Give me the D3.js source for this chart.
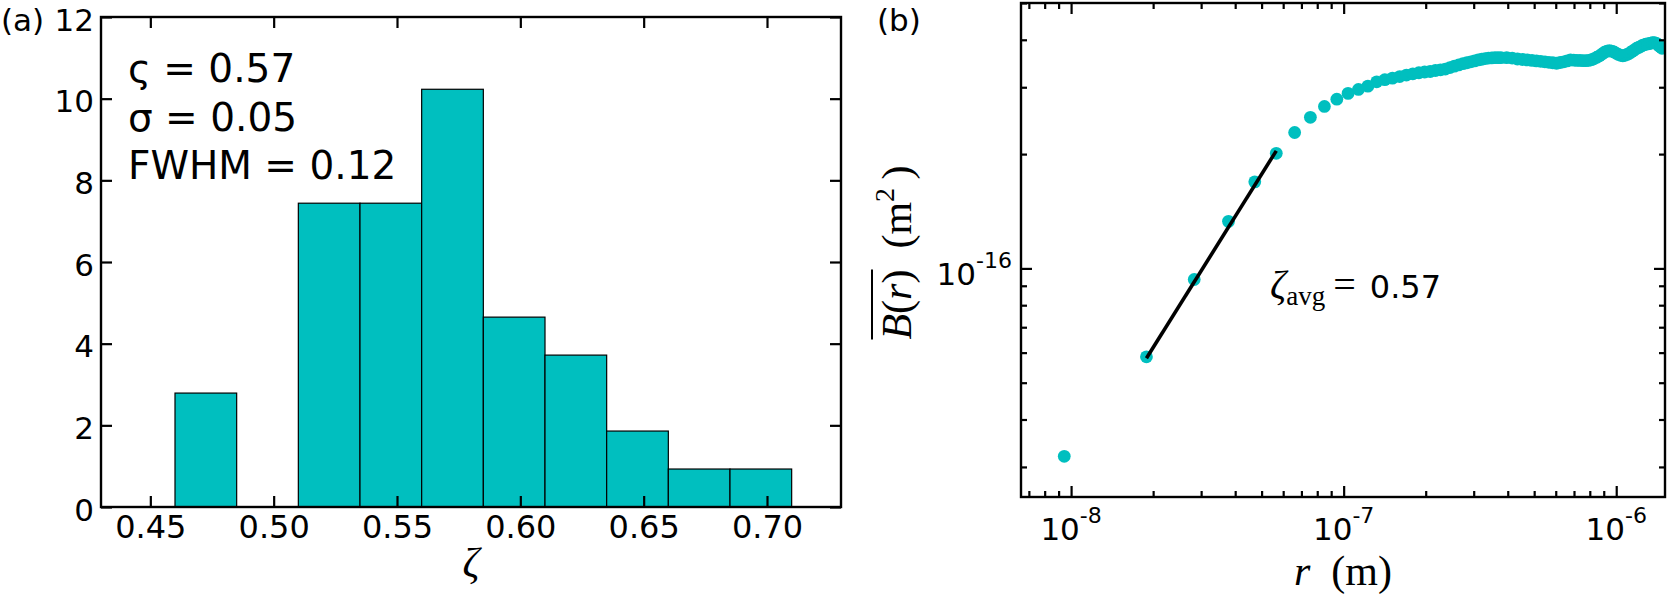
<!DOCTYPE html>
<html>
<head>
<meta charset="utf-8">
<script src="https://cdn.jsdelivr.net/npm/d3@7"></script>
<style>
  body { margin: 0; background: #fff; }
  svg { display: block; }
</style>
</head>
<body>
<div id="chart"></div>
<script>
// (a) histogram of zeta, normalised counts
const binEdges = [0.46, 0.485, 0.51, 0.535, 0.56, 0.585, 0.61, 0.635, 0.66, 0.685, 0.71];
const binDensity = [2.79, 0, 7.44, 7.44, 10.23, 4.65, 3.72, 1.86, 0.93, 0.93];
const histXTicks = [0.45, 0.50, 0.55, 0.60, 0.65, 0.70];
const histYTicks = [0, 2, 4, 6, 8, 10, 12];
const statLines = ["ς = 0.57", "σ = 0.05", "FWHM = 0.12"];

// (b) structure function: r in nm, B in 1e-17 m^2
const rNm = [9.44, 18.9, 28.3, 37.8, 47.2, 56.6, 66.1, 75.5, 85.0, 94.4,
  103.8, 113.3, 122.7, 132.2, 141.6, 151.0, 160.5, 169.9, 179.4, 188.8,
  198.2, 207.7, 217.1, 226.6, 236.0, 245.4, 254.9, 264.3, 273.8, 283.2,
  292.6, 302.1, 311.5, 321.0, 330.4, 339.8, 349.3, 358.7, 368.2, 377.6,
  396.5, 415.4, 434.2, 453.1, 472.0, 490.9, 509.8, 528.6, 547.5, 566.4,
  585.3, 604.2, 623.0, 641.9, 660.8, 679.7, 698.6, 717.4, 736.3, 755.2,
  774.1, 793.0, 811.8, 830.7, 849.6, 868.5, 887.4, 906.2, 925.1, 944.0,
  962.9, 981.8, 1000.6, 1019.5, 1038.4, 1057.3, 1076.2, 1095.0, 1113.9, 1132.8,
  1151.7, 1170.6, 1189.4, 1208.3, 1227.2, 1246.1, 1265.0, 1283.8, 1302.7, 1321.6,
  1340.5, 1359.4, 1378.2, 1397.1, 1416.0, 1434.9, 1453.8, 1472.6];
const bVal = [3.2, 5.85, 9.35, 13.3, 16.9, 20.1, 22.8, 25.0, 26.7, 27.9,
  28.9, 29.6, 30.2, 31.0, 31.4, 31.7, 32.0, 32.3, 32.55, 32.75,
  32.9, 33.0, 33.2, 33.35, 33.5, 33.8, 34.1, 34.35, 34.6, 34.8,
  35.0, 35.2, 35.4, 35.55, 35.7, 35.8, 35.85, 35.9, 35.9, 35.9,
  35.9, 35.8, 35.6, 35.5, 35.4, 35.3, 35.2, 35.1, 35.0, 34.9,
  34.8, 34.7, 34.85, 35.0, 35.2, 35.4, 35.35, 35.3, 35.3, 35.25,
  35.25, 35.3, 35.45, 35.7, 36.0, 36.3, 36.7, 37.1, 37.35, 37.45,
  37.35, 37.15, 36.85, 36.6, 36.4, 36.3, 36.4, 36.6, 36.8, 37.1,
  37.4, 37.7, 38.0, 38.2, 38.4, 38.65, 38.8, 38.95, 39.0, 39.1,
  39.2, 39.3, 39.3, 39.2, 39.0, 38.6, 38.3, 38.0];
const fitR = [18.9, 56.6];
const fitB = [5.8, 20.4];
const logXMajor = [1e-8, 1e-7, 1e-6];
const logYMajor = [1e-16];

const width = 1670, height = 598;
const teal = "#00bfbf";
const sans = "DejaVu Sans";
const serif = "Liberation Serif";

const svg = d3.select("#chart").append("svg")
  .attr("width", width)
  .attr("height", height);

// panel boxes
const A = {left: 101, right: 841, top: 17, bottom: 507};
const B = {left: 1021, right: 1665, top: 3, bottom: 497};

// ---------- panel (a) ----------
const xa = d3.scaleLinear().domain([0.43, 0.73]).range([A.left, A.right]);
const ya = d3.scaleLinear().domain([0, 12]).range([A.bottom, A.top]);

const bins = binDensity.map((v, i) => ({x0: binEdges[i], x1: binEdges[i + 1], v: v}));

svg.append("g").selectAll("rect")
  .data(bins.filter(d => d.v > 0))
  .enter()
  .append("rect")
  .attr("x", d => xa(d.x0))
  .attr("y", d => ya(d.v))
  .attr("width", d => xa(d.x1) - xa(d.x0))
  .attr("height", d => ya(0) - ya(d.v))
  .attr("fill", teal)
  .attr("stroke", "#000")
  .attr("stroke-width", 1.2);

function styleAxis(g, fs) {
  g.select(".domain").remove();
  g.selectAll(".tick line").attr("stroke", "#000").attr("stroke-width", 2.2);
  g.attr("font-family", sans).attr("font-size", fs);
  g.selectAll("text").attr("fill", "#000");
}

svg.append("g").attr("transform", `translate(0,${A.bottom})`)
  .call(d3.axisBottom(xa).tickValues(histXTicks).tickSizeInner(-11).tickSizeOuter(0)
    .tickPadding(8).tickFormat(d3.format(".2f")))
  .call(g => styleAxis(g, 32));
svg.append("g").attr("transform", `translate(0,${A.top})`)
  .call(d3.axisTop(xa).tickValues(histXTicks).tickSizeInner(-11).tickSizeOuter(0).tickFormat(""))
  .call(g => styleAxis(g, 32));
svg.append("g").attr("transform", `translate(${A.left},0)`)
  .call(d3.axisLeft(ya).tickValues(histYTicks).tickSizeInner(-11).tickSizeOuter(0).tickPadding(7))
  .call(g => styleAxis(g, 31))
  .call(g => g.selectAll("text").attr("dy", "0.42em"));
svg.append("g").attr("transform", `translate(${A.right},0)`)
  .call(d3.axisRight(ya).tickValues(histYTicks).tickSizeInner(-11).tickSizeOuter(0).tickFormat(""))
  .call(g => styleAxis(g, 32));

svg.append("rect")
  .attr("x", A.left).attr("y", A.top)
  .attr("width", A.right - A.left).attr("height", A.bottom - A.top)
  .attr("fill", "none").attr("stroke", "#000").attr("stroke-width", 2.4);

// stats text
svg.append("g").selectAll("text")
  .data(statLines)
  .enter()
  .append("text")
  .attr("x", A.left + 27)
  .attr("y", (d, i) => A.top + 65 + i * 48.7)
  .attr("font-family", sans)
  .attr("font-size", 39)
  .text(d => d);

// x label
svg.append("text")
  .attr("x", (A.left + A.right) / 2)
  .attr("y", 577)
  .attr("text-anchor", "middle")
  .attr("font-family", serif)
  .attr("font-style", "italic")
  .attr("font-size", 42)
  .text("ζ");

svg.append("text")
  .attr("x", 1).attr("y", 31)
  .attr("font-family", sans).attr("font-size", 31)
  .text("(a)");

// ---------- panel (b) ----------
const xb = d3.scaleLog().domain([6.55e-9, 1.51e-6]).range([B.left, B.right]);
const yb = d3.scaleLog().domain([2.5e-17, 5e-16]).range([B.bottom, B.top]);

const isMajor = v => Math.abs(Math.log10(v) - Math.round(Math.log10(v))) < 1e-6;
const xMinor = xb.ticks().filter(v => !isMajor(v));
const yMinor = yb.ticks().filter(v => !isMajor(v));

svg.append("clipPath").attr("id", "clipB")
  .append("rect")
  .attr("x", B.left).attr("y", B.top)
  .attr("width", B.right - B.left).attr("height", B.bottom - B.top);

const pts = rNm.map((r, i) => ({r: r * 1e-9, b: bVal[i] * 1e-17}));

const plotB = svg.append("g").attr("clip-path", "url(#clipB)");
plotB.selectAll("circle")
  .data(pts)
  .enter()
  .append("circle")
  .attr("cx", d => xb(d.r))
  .attr("cy", d => yb(d.b))
  .attr("r", 6.4)
  .attr("fill", teal);

const fitLine = d3.line()
  .x(d => xb(d[0] * 1e-9))
  .y(d => yb(d[1] * 1e-17));
plotB.append("path")
  .datum(fitR.map((r, i) => [r, fitB[i]]))
  .attr("d", fitLine)
  .attr("fill", "none")
  .attr("stroke", "#000")
  .attr("stroke-width", 3.6);

// ticks, inward on all four sides
[[d3.axisBottom, xb, B.bottom, true], [d3.axisTop, xb, B.top, true],
 [d3.axisLeft, yb, B.left, false], [d3.axisRight, yb, B.right, false]].forEach(([ax, sc, pos, horiz]) => {
  const major = horiz ? logXMajor : logYMajor;
  const minor = horiz ? xMinor : yMinor;
  const tr = horiz ? `translate(0,${pos})` : `translate(${pos},0)`;
  svg.append("g").attr("transform", tr)
    .call(ax(sc).tickValues(major).tickSizeInner(-11).tickSizeOuter(0).tickFormat(""))
    .call(g => styleAxis(g, 31));
  svg.append("g").attr("transform", tr)
    .call(ax(sc).tickValues(minor).tickSizeInner(-6).tickSizeOuter(0).tickFormat(""))
    .call(g => styleAxis(g, 31));
});

svg.append("rect")
  .attr("x", B.left).attr("y", B.top)
  .attr("width", B.right - B.left).attr("height", B.bottom - B.top)
  .attr("fill", "none").attr("stroke", "#000").attr("stroke-width", 2.4);

// power-of-ten tick labels
function powLabel(sel) {
  sel.attr("font-family", sans).attr("font-size", 31);
  sel.append("tspan").text("10");
  sel.append("tspan").attr("dy", -17).attr("font-size", 22)
    .text(d => "-" + Math.round(-Math.log10(d)));
}
svg.append("g").selectAll("text")
  .data(logXMajor)
  .enter()
  .append("text")
  .attr("x", d => xb(d))
  .attr("y", B.bottom + 43)
  .attr("text-anchor", "middle")
  .call(powLabel);
svg.append("g").selectAll("text")
  .data(logYMajor)
  .enter()
  .append("text")
  .attr("x", B.left - 9)
  .attr("y", d => yb(d) + 17)
  .attr("text-anchor", "end")
  .call(powLabel);

// x label
const xlab = svg.append("text")
  .attr("x", (B.left + B.right) / 2)
  .attr("y", 585)
  .attr("text-anchor", "middle")
  .attr("font-family", serif)
  .attr("font-size", 42);
xlab.append("tspan").attr("font-style", "italic").text("r");
xlab.append("tspan").text("\u2002(m)");

// y label, rotated, with overline over B(r)
const ylab = svg.append("g").attr("transform", "translate(911,252.5) rotate(-90)");
const yt1 = ylab.append("text").attr("font-family", serif).attr("font-size", 42);
yt1.append("tspan").attr("font-style", "italic").text("B");
yt1.append("tspan").text("(");
yt1.append("tspan").attr("font-style", "italic").text("r");
yt1.append("tspan").text(")");
const yt2 = ylab.append("text").attr("font-family", serif).attr("font-size", 42);
yt2.append("tspan").text("\u2002(m");
yt2.append("tspan").attr("font-size", 28).attr("dy", -17).text("2");
yt2.append("tspan").attr("dy", 17).text("\u2009)");
const w1 = yt1.node().getComputedTextLength();
const w2 = yt2.node().getComputedTextLength();
const y0 = -(w1 + w2) / 2;
yt1.attr("x", y0);
yt2.attr("x", y0 + w1);
ylab.append("line")
  .attr("x1", y0).attr("x2", y0 + w1)
  .attr("y1", -39).attr("y2", -39)
  .attr("stroke", "#000").attr("stroke-width", 2);

// zeta_avg annotation
const ann = svg.append("text")
  .attr("x", xb(5.37e-8))
  .attr("y", yb(8.35e-17))
  .attr("font-family", serif)
  .attr("font-size", 40);
ann.append("tspan").attr("font-style", "italic").text("ζ");
ann.append("tspan").attr("font-size", 27).attr("dy", 7).text("avg");
ann.append("tspan").attr("dy", -7).attr("dx", 8).text("=");
ann.append("tspan").attr("dx", 14).attr("font-family", sans).attr("font-size", 32).text("0.57");

svg.append("text")
  .attr("x", 877).attr("y", 31)
  .attr("font-family", sans).attr("font-size", 31)
  .text("(b)");
</script>
</body>
</html>
